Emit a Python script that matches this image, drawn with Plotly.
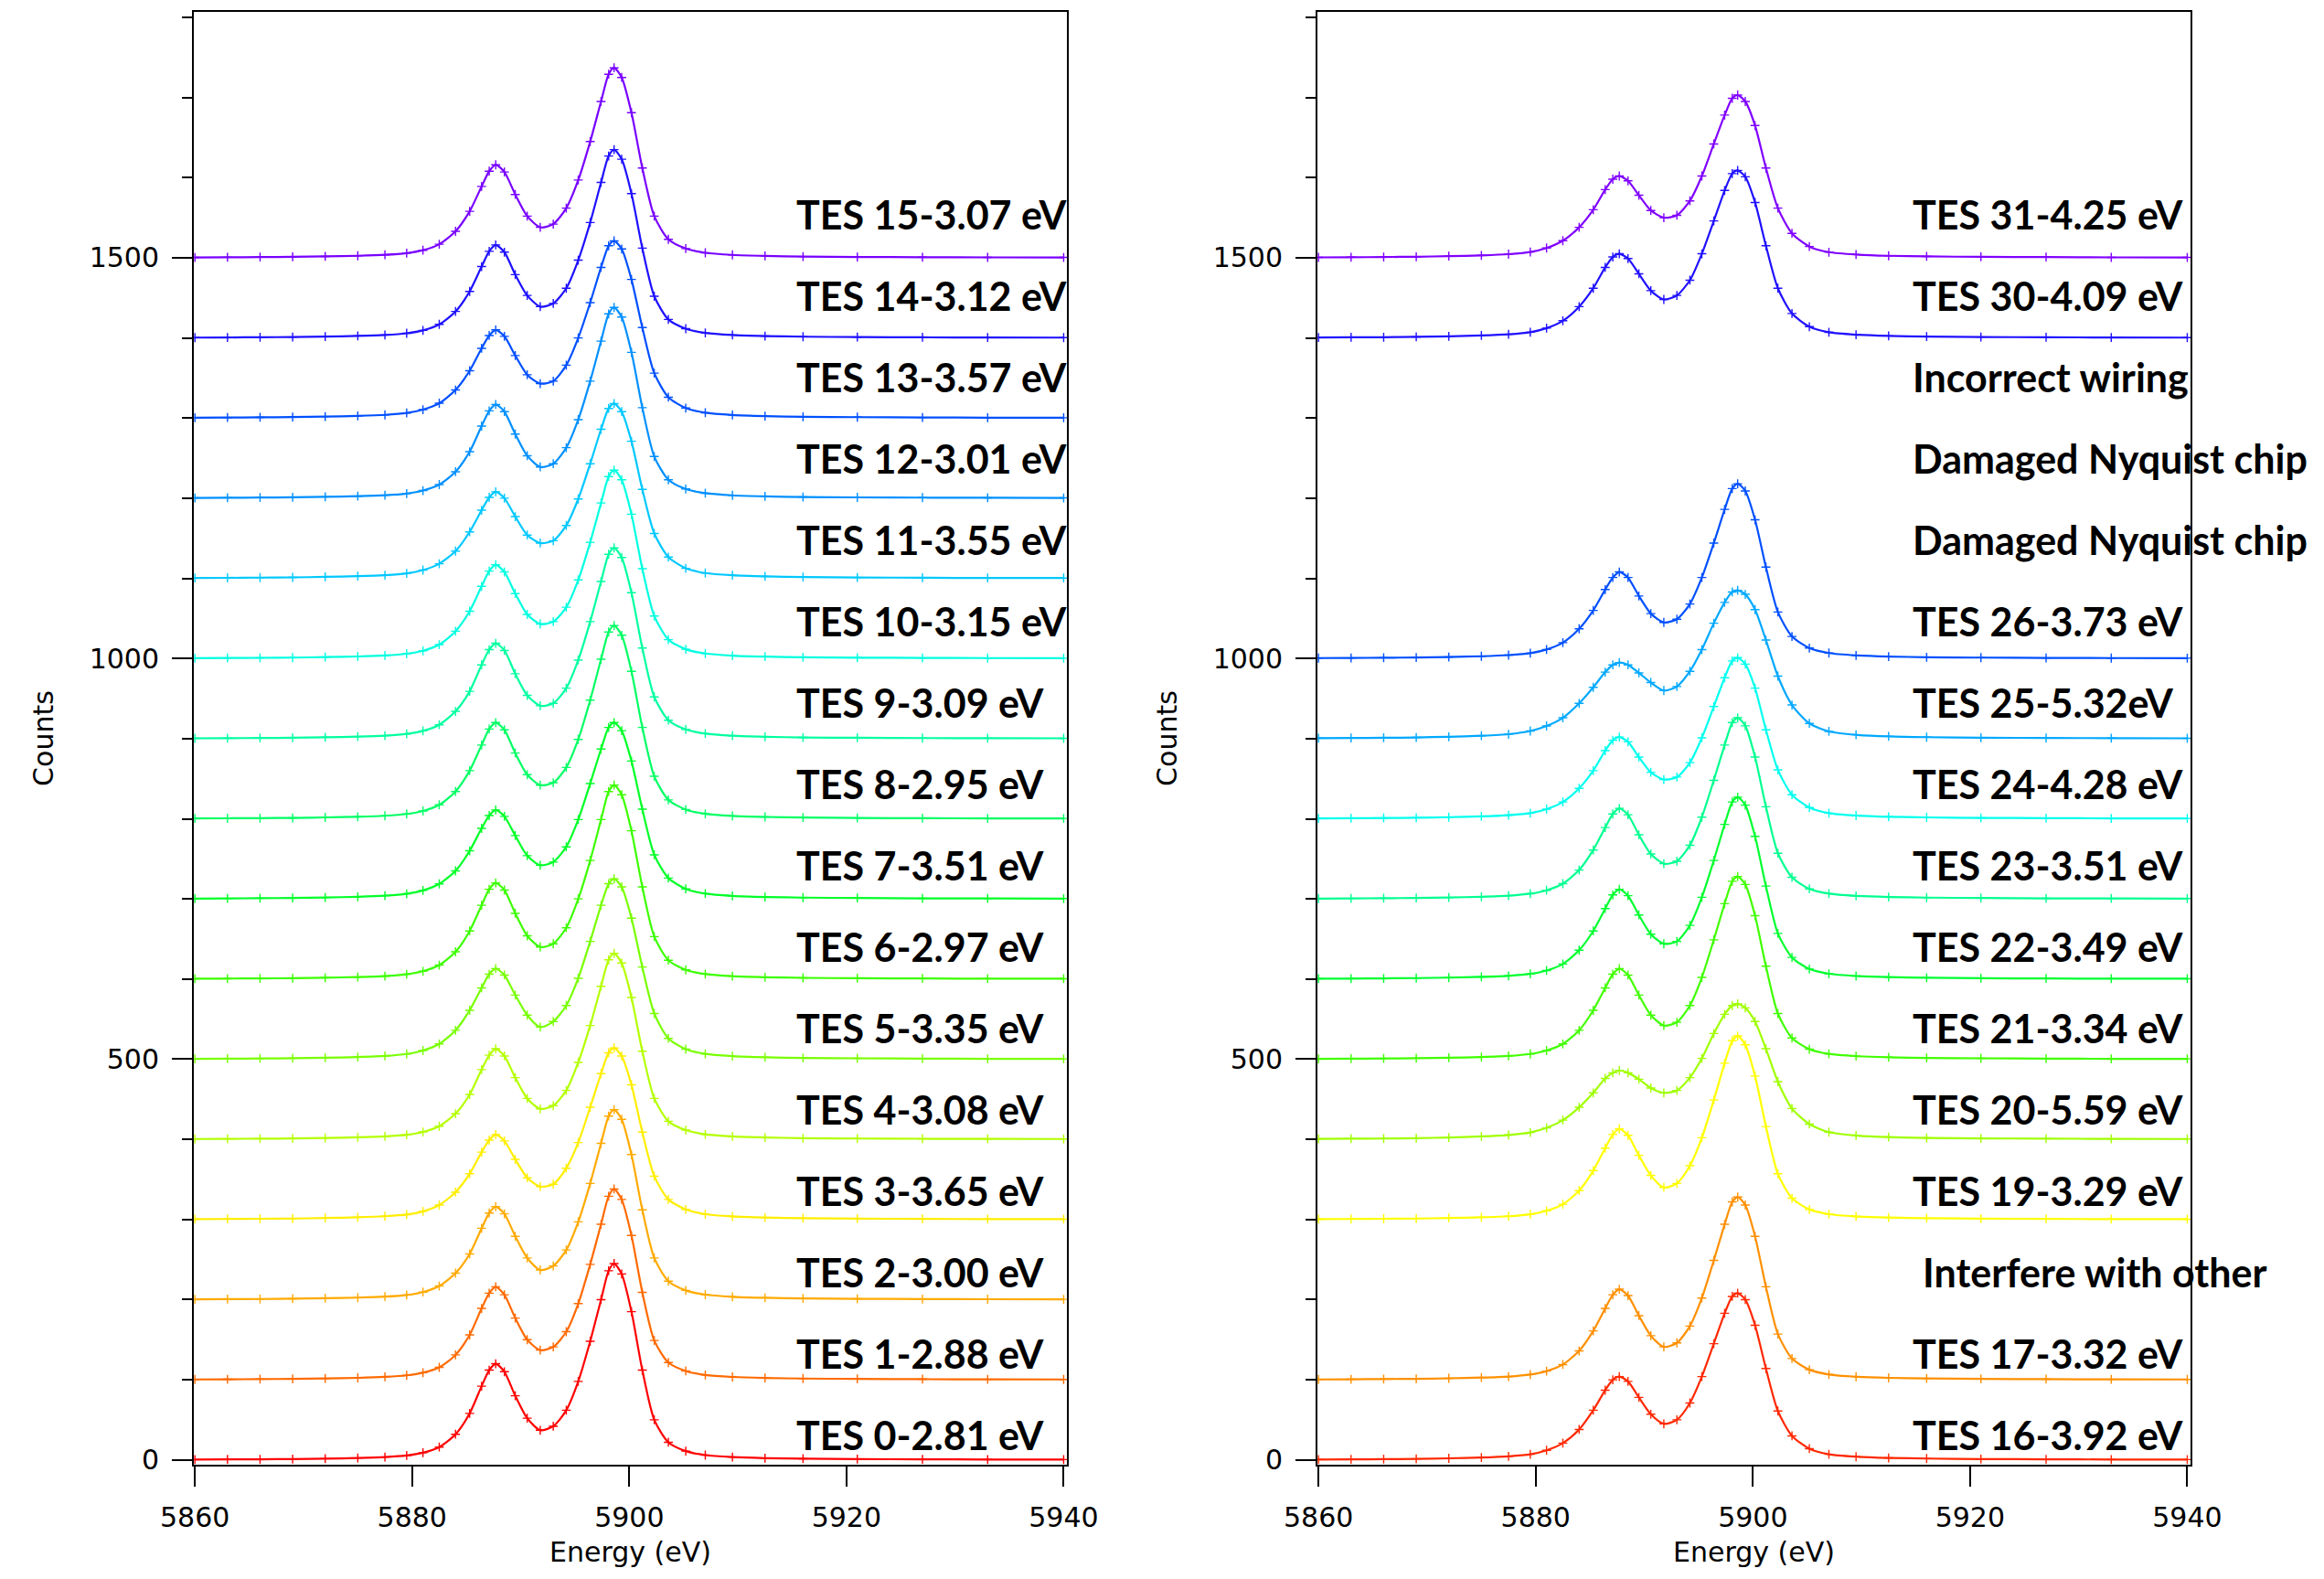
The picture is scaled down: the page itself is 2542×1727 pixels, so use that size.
import plotly.graph_objects as go

# ---------------- data ----------------
ENERGY = [5860, 5863, 5866, 5869, 5872, 5875, 5877.5, 5879.5, 5881, 5882.5,
          5884, 5885.3, 5886.4, 5887.1, 5887.7, 5888.5, 5889.5, 5890.6, 5891.8, 5893,
          5894.2, 5895.3, 5896.4, 5897.4, 5898.1, 5898.6, 5899.3, 5900.2, 5901.2, 5902.3,
          5903.6, 5905.2, 5907, 5909.5, 5912.5, 5916, 5921, 5927, 5933, 5940]

# counts above each trace's vertical offset
TES_0 = [0.4, 0.6, 0.8, 1.1, 1.6, 2.4, 3.5, 5.5, 9, 16, 32, 58, 92, 112, 120, 110, 80, 52, 37, 42, 62, 98, 148, 200, 236, 245, 232, 185, 112, 50, 22, 11, 6, 3.5, 2.2, 1.5, 1, 0.7, 0.5, 0.4]
TES_1 = [0.4, 0.6, 0.8, 1.1, 1.6, 2.4, 3.6, 5.5, 8.8, 15.5, 31, 56, 89, 108, 116, 106, 77, 50, 37, 41, 60, 95, 144, 194, 229, 238, 225, 180, 109, 49, 21.5, 11, 6, 3.5, 2.2, 1.5, 1, 0.7, 0.5, 0.4]
TES_2 = [0.4, 0.6, 0.8, 1.1, 1.7, 2.5, 3.7, 5.8, 9.4, 17, 33, 57, 89, 108, 116, 107, 79, 52, 37, 42, 62, 97, 145, 195, 229, 237, 225, 181, 112, 52, 23, 11.5, 6.2, 3.6, 2.3, 1.5, 1, 0.7, 0.5, 0.4]
TES_3 = [0.4, 0.6, 0.9, 1.2, 1.8, 2.7, 4, 6.1, 10.1, 18, 34, 57, 84, 99, 106, 98, 75, 52, 41, 44, 64, 96, 140, 182, 208, 214, 204, 168, 109, 54, 25, 12.5, 6.6, 3.8, 2.4, 1.6, 1.1, 0.7, 0.5, 0.4]
TES_4 = [0.4, 0.6, 0.8, 1.1, 1.7, 2.5, 3.7, 5.6, 9.2, 16.4, 32, 56, 87, 105, 113, 104, 77, 51, 38, 42, 61, 96, 142, 191, 224, 232, 220, 177, 110, 51, 22.5, 11.5, 6.2, 3.6, 2.3, 1.5, 1, 0.7, 0.5, 0.4]
TES_5 = [0.4, 0.6, 0.9, 1.2, 1.8, 2.7, 4, 6.5, 10.8, 19, 36, 61, 89, 106, 113, 105, 80, 55, 40, 47, 67, 101, 147, 192, 219, 225, 215, 176, 115, 57, 26, 12.5, 6.6, 3.8, 2.4, 1.6, 1.1, 0.7, 0.5, 0.4]
TES_6 = [0.4, 0.6, 0.8, 1.1, 1.7, 2.5, 3.7, 6, 9.7, 17.4, 34, 60, 92, 112, 120, 111, 82, 54, 40, 44, 64, 100, 148, 199, 234, 242, 230, 185, 115, 53, 23.5, 11.5, 6.2, 3.6, 2.3, 1.5, 1, 0.7, 0.5, 0.4]
TES_7 = [0.4, 0.6, 0.9, 1.2, 1.8, 2.7, 4, 6.4, 10.6, 18.7, 35, 60, 88, 104, 111, 103, 79, 54, 42, 46, 65, 99, 144, 187, 214, 220, 210, 172, 112, 55, 26, 12.5, 6.6, 3.8, 2.4, 1.6, 1.1, 0.7, 0.5, 0.4]
TES_8 = [0.4, 0.6, 0.8, 1.1, 1.7, 2.5, 3.7, 6, 9.7, 17.4, 34, 60, 92, 112, 120, 111, 82, 55, 42, 45, 64, 99, 148, 199, 233, 241, 229, 184, 114, 53, 23.5, 11.5, 6.2, 3.6, 2.3, 1.5, 1, 0.7, 0.5, 0.4]
TES_9 = [0.4, 0.6, 0.8, 1.1, 1.7, 2.5, 3.7, 5.9, 9.7, 17.3, 34, 59, 92, 111, 119, 110, 81, 54, 41, 44, 63, 98, 146, 196, 230, 238, 226, 182, 113, 52, 23, 11.5, 6.2, 3.6, 2.3, 1.5, 1, 0.7, 0.5, 0.4]
TES_10 = [0.4, 0.6, 0.8, 1.1, 1.7, 2.5, 3.7, 5.9, 9.6, 17.3, 34, 59, 90, 109, 117, 108, 81, 55, 43, 46, 64, 98, 145, 194, 227, 235, 223, 180, 112, 53, 23.5, 11.5, 6.2, 3.6, 2.3, 1.5, 1, 0.7, 0.5, 0.4]
TES_11 = [0.4, 0.6, 0.9, 1.2, 1.8, 2.7, 4, 6.2, 10.3, 18.2, 34, 58, 85, 101, 108, 100, 77, 54, 44, 47, 66, 99, 143, 186, 212, 218, 208, 171, 111, 56, 26.5, 12.5, 6.6, 3.8, 2.4, 1.6, 1.1, 0.7, 0.5, 0.4]
TES_12 = [0.4, 0.6, 0.8, 1.1, 1.7, 2.5, 3.7, 5.8, 9.5, 17, 33, 58, 90, 109, 117, 108, 80, 53, 39, 43, 63, 98, 146, 196, 230, 238, 226, 182, 113, 52, 23, 11.5, 6.2, 3.6, 2.3, 1.5, 1, 0.7, 0.5, 0.4]
TES_13 = [0.4, 0.6, 0.9, 1.2, 1.8, 2.7, 4, 6.3, 10.5, 18.5, 35, 59, 87, 103, 110, 102, 78, 54, 43, 46, 66, 100, 144, 188, 215, 221, 211, 173, 113, 56, 26, 12.5, 6.6, 3.8, 2.4, 1.6, 1.1, 0.7, 0.5, 0.4]
TES_14 = [0.4, 0.6, 0.8, 1.1, 1.7, 2.5, 3.7, 5.8, 9.4, 16.9, 33, 58, 89, 108, 116, 107, 79, 53, 39, 43, 62, 97, 144, 194, 227, 235, 223, 180, 112, 52, 23, 11.5, 6.2, 3.6, 2.3, 1.5, 1, 0.7, 0.5, 0.4]
TES_15 = [0.4, 0.6, 0.8, 1.1, 1.7, 2.5, 3.7, 5.8, 9.4, 16.9, 33, 58, 89, 108, 116, 107, 79, 52, 38, 42, 62, 97, 145, 195, 229, 237, 225, 181, 112, 52, 23, 11.5, 6.2, 3.6, 2.3, 1.5, 1, 0.7, 0.5, 0.4]

TES_16 = [0.5, 0.7, 0.9, 1.3, 2, 3, 4.5, 7, 12, 21, 38, 62, 87, 100, 104, 98, 78, 57, 45, 50, 71, 104, 145, 183, 204, 208, 200, 168, 114, 61, 30, 14, 7, 4, 2.5, 1.7, 1.1, 0.8, 0.5, 0.4]
TES_17 = [0.4, 0.6, 0.9, 1.2, 1.8, 2.7, 4, 6.5, 10.8, 19, 36, 61, 89, 106, 113, 105, 80, 55, 41, 46, 67, 102, 149, 194, 222, 228, 218, 179, 116, 57, 26.5, 12.5, 6.6, 3.8, 2.4, 1.6, 1.1, 0.7, 0.5, 0.4]
TES_19 = [0.4, 0.6, 0.9, 1.2, 1.8, 2.7, 4, 6.5, 10.8, 19, 36, 61, 89, 106, 113, 105, 80, 55, 40, 45, 67, 102, 149, 195, 223, 229, 218, 179, 116, 57, 26.5, 12.5, 6.6, 3.8, 2.4, 1.6, 1.1, 0.7, 0.5, 0.4]
TES_20 = [0.6, 0.8, 1, 1.5, 2.3, 3.6, 5.5, 8.6, 14.3, 24, 40, 58, 76, 83, 86, 83, 75, 64, 58, 61, 77, 101, 132, 156, 167, 169, 164, 147, 113, 72, 38.5, 19, 9, 4.8, 2.8, 1.8, 1.2, 0.8, 0.6, 0.4]
TES_21 = [0.4, 0.6, 0.9, 1.2, 1.8, 2.7, 4, 6.5, 10.8, 19, 36, 61, 89, 106, 113, 105, 80, 55, 42, 46, 67, 102, 149, 194, 222, 228, 218, 179, 116, 57, 26.5, 12.5, 6.6, 3.8, 2.4, 1.6, 1.1, 0.7, 0.5, 0.4]
TES_22 = [0.4, 0.6, 0.9, 1.2, 1.8, 2.7, 4, 6.4, 10.7, 18.8, 36, 60, 88, 105, 112, 104, 80, 56, 44, 47, 67, 102, 148, 193, 221, 227, 217, 178, 116, 57, 27, 12.5, 6.6, 3.8, 2.4, 1.6, 1.1, 0.7, 0.5, 0.4]
TES_23 = [0.4, 0.6, 0.9, 1.2, 1.8, 2.7, 4, 6.5, 10.8, 19, 36, 61, 89, 106, 113, 105, 80, 56, 44, 47, 67, 102, 148, 192, 220, 226, 216, 177, 115, 57, 27, 12.5, 6.6, 3.8, 2.4, 1.6, 1.1, 0.7, 0.5, 0.4]
TES_24 = [0.5, 0.7, 0.9, 1.3, 2, 3, 4.5, 7, 12, 21, 38, 60, 85, 98, 102, 96, 77, 58, 49, 52, 70, 101, 140, 176, 197, 201, 193, 163, 111, 61, 30, 14, 7, 4, 2.5, 1.7, 1.1, 0.8, 0.5, 0.4]
TES_25 = [0.6, 0.8, 1, 1.5, 2.3, 3.6, 5.5, 9.5, 15.8, 26, 44, 64, 83, 92, 95, 92, 82, 70, 60, 65, 84, 111, 144, 170, 183, 185, 180, 161, 123, 78, 42, 19, 9, 4.8, 2.8, 1.8, 1.2, 0.8, 0.6, 0.4]
TES_26 = [0.5, 0.7, 0.9, 1.3, 1.9, 2.8, 4.2, 6.6, 11.2, 19.8, 37, 60, 86, 101, 108, 101, 78, 56, 45, 49, 68, 101, 144, 186, 212, 218, 209, 173, 114, 58, 27.5, 13, 6.8, 3.9, 2.4, 1.6, 1.1, 0.7, 0.5, 0.4]
TES_30 = [0.5, 0.7, 0.9, 1.3, 2, 3, 4.5, 7.1, 12.2, 21.4, 39, 62, 88, 101, 105, 99, 80, 59, 48, 53, 72, 105, 146, 184, 205, 209, 201, 169, 115, 62, 30.5, 14, 7, 4, 2.5, 1.7, 1.1, 0.8, 0.5, 0.4]
TES_31 = [0.5, 0.7, 0.9, 1.3, 2, 3, 4.5, 7.2, 12.2, 21.3, 38, 60, 85, 98, 102, 96, 78, 59, 50, 53, 71, 102, 142, 178, 199, 203, 195, 165, 112, 62, 30.5, 14, 7, 4, 2.5, 1.7, 1.1, 0.8, 0.5, 0.4]

LEFT_SPECTRA = [TES_0, TES_1, TES_2, TES_3, TES_4, TES_5, TES_6, TES_7,
                TES_8, TES_9, TES_10, TES_11, TES_12, TES_13, TES_14, TES_15]
LEFT_OFFSETS = [0, 100, 200, 300, 400, 500, 600, 700, 800, 900, 1000, 1100, 1200, 1300, 1400, 1500]
RIGHT_SPECTRA = [TES_16, TES_17, TES_19, TES_20, TES_21, TES_22, TES_23, TES_24,
                 TES_25, TES_26, TES_30, TES_31]
RIGHT_OFFSETS = [0, 100, 300, 400, 500, 600, 700, 800, 900, 1000, 1400, 1500]

LEFT_LABELS = ["TES 0-2.81 eV", "TES 1-2.88 eV", "TES 2-3.00 eV", "TES 3-3.65 eV",
               "TES 4-3.08 eV", "TES 5-3.35 eV", "TES 6-2.97 eV", "TES 7-3.51 eV",
               "TES 8-2.95 eV", "TES 9-3.09 eV", "TES 10-3.15 eV", "TES 11-3.55 eV",
               "TES 12-3.01 eV", "TES 13-3.57 eV", "TES 14-3.12 eV", "TES 15-3.07 eV"]
RIGHT_LABELS = ["TES 16-3.92 eV", "TES 17-3.32 eV", "Interfere with other", "TES 19-3.29 eV",
                "TES 20-5.59 eV", "TES 21-3.34 eV", "TES 22-3.49 eV", "TES 23-3.51 eV",
                "TES 24-4.28 eV", "TES 25-5.32eV", "TES 26-3.73 eV", "Damaged Nyquist chip",
                "Damaged Nyquist chip", "Incorrect wiring", "TES 30-4.09 eV", "TES 31-4.25 eV"]

X_TICKS = [5860, 5880, 5900, 5920, 5940]
Y_TICKS = [0, 500, 1000, 1500]

# ---------------- styles ----------------
LEFT_COLORS = ["#ff0000", "#ff6a00", "#ffaa00", "#ffee00", "#b4ff00", "#78ff00", "#3cff00", "#00ff28",
               "#00ff64", "#00ffa0", "#00ffe0", "#00c8ff", "#0090ff", "#0050ff", "#1e10ff", "#7800ff"]
RIGHT_COLORS = ["#ff2800", "#ff9000", "#ffff00", "#a0ff00", "#40ff00", "#00ff30", "#00ff90",
                "#00ffee", "#00a8ff", "#0050ff", "#2010ff", "#8000ff"]

W, H = 2542, 1727
LEFT_DOM = [212 / W, 1167 / W]
RIGHT_DOM = [1441 / W, 2396 / W]
Y_DOM = [125 / H, 1714 / H]
X_RANGE = [5859.9, 5940.3]
Y_RANGE = [-6, 1806.8]

TICK_FONT = dict(family="DejaVu Sans", size=30, color="black")
LABEL_FONT = dict(family="Lato", size=43, color="black", weight=700)

fig = go.Figure()


def add_traces(spectra, offsets, colors, xa, ya):
    for counts, off, col in zip(spectra, offsets, colors):
        fig.add_trace(go.Scatter(
            x=ENERGY, y=[off + c for c in counts], xaxis=xa, yaxis=ya,
            mode="lines+markers", showlegend=False, hoverinfo="skip",
            line=dict(color=col, width=2.2, shape="spline", smoothing=0.7),
            marker=dict(symbol="cross-thin", size=7, color=col, line=dict(color=col, width=1.4)),
        ))


add_traces(LEFT_SPECTRA, LEFT_OFFSETS, LEFT_COLORS, "x", "y")
add_traces(RIGHT_SPECTRA, RIGHT_OFFSETS, RIGHT_COLORS, "x2", "y2")


def xaxis(domain, anchor):
    return dict(domain=domain, anchor=anchor, range=X_RANGE, tickvals=X_TICKS,
                ticks="outside", ticklen=22, tickwidth=2, tickcolor="black",
                showline=True, linewidth=2, linecolor="black", mirror=True,
                showgrid=False, zeroline=False, tickfont=TICK_FONT, ticklabelstandoff=8,
                automargin=False,
                title=dict(text="Energy (eV)", font=TICK_FONT, standoff=11))


def yaxis(anchor):
    return dict(domain=Y_DOM, anchor=anchor, range=Y_RANGE, tickvals=Y_TICKS,
                ticks="outside", ticklen=22, tickwidth=2, tickcolor="black",
                minor=dict(dtick=100, tick0=0, ticks="outside", ticklen=11, tickwidth=2,
                           tickcolor="black", showgrid=False),
                showline=True, linewidth=2, linecolor="black", mirror=True,
                showgrid=False, zeroline=False, tickfont=TICK_FONT, ticklabelstandoff=8,
                automargin=False,
                title=dict(text="Counts", font=TICK_FONT, standoff=30))


annotations = []
for i, txt in enumerate(LEFT_LABELS):
    annotations.append(dict(x=5915.2, y=31.5 + 101.5 * i, xref="x", yref="y", text=txt,
                            showarrow=False, xanchor="left", yanchor="middle", font=LABEL_FONT))
for i, txt in enumerate(RIGHT_LABELS):
    xpos = 5915.45 if txt.startswith("Interfere") else 5914.55
    annotations.append(dict(x=xpos, y=31.5 + 101.5 * i, xref="x2", yref="y2", text=txt,
                            showarrow=False, xanchor="left", yanchor="middle", font=LABEL_FONT))

fig.update_layout(
    width=W, height=H, margin=dict(l=0, r=0, t=0, b=0),
    paper_bgcolor="white", plot_bgcolor="white",
    xaxis=xaxis(LEFT_DOM, "y"), yaxis=yaxis("x"),
    xaxis2=xaxis(RIGHT_DOM, "y2"), yaxis2=yaxis("x2"),
    annotations=annotations,
)

fig.write_html("out.html", config={"displayModeBar": False},
               post_script="document.body.style.margin='0';document.body.style.overflow='hidden';")
